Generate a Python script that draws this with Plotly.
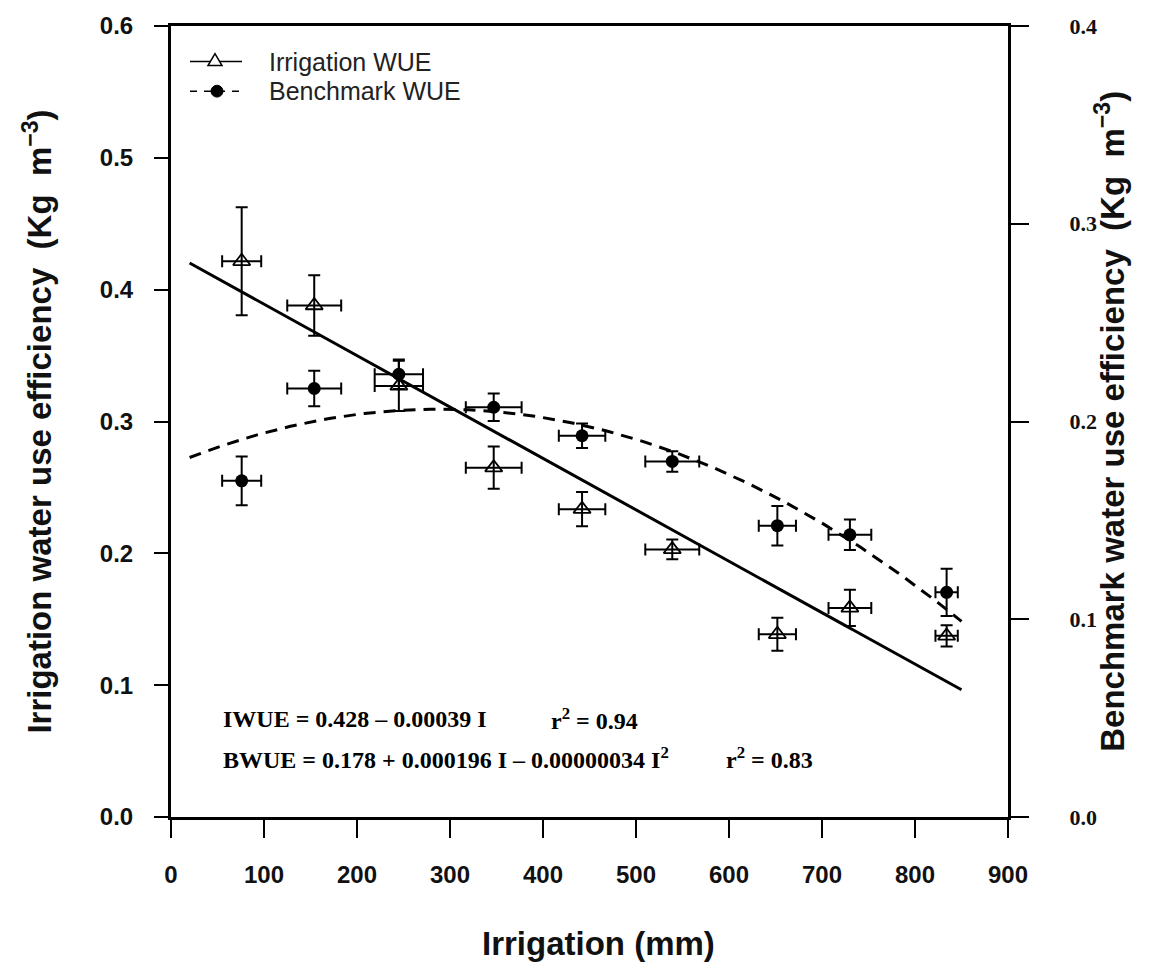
import numpy as np
import plotly.graph_objects as go

# ---- data ----
irrigation_mm = [76, 154, 245, 347, 442, 539, 652, 730, 834]
irrigation_err = [21, 29, 26, 30, 25, 29, 20, 23, 12]
iwue = [0.4215, 0.388, 0.327, 0.265, 0.2335, 0.203, 0.1386, 0.1586, 0.1374]
iwue_err = [0.041, 0.023, 0.019, 0.016, 0.013, 0.0075, 0.0125, 0.0137, 0.008]
bwue = [0.170, 0.2167, 0.2239, 0.2072, 0.1928, 0.1798, 0.1473, 0.1427, 0.1136]
bwue_err = [0.0123, 0.009, 0.0075, 0.007, 0.0062, 0.0052, 0.010, 0.0077, 0.012]

# fitted equations printed on the chart
iwue_coef = [0.428, -0.00039]
bwue_coef = [0.178, 0.000196, -0.00000034]
fit_range = [20, 850]

x_ticks = [0, 100, 200, 300, 400, 500, 600, 700, 800, 900]
y_ticks = [0.0, 0.1, 0.2, 0.3, 0.4, 0.5, 0.6]
y2_ticks = [0.0, 0.1, 0.2, 0.3, 0.4]
legend_names = ["Irrigation WUE", "Benchmark WUE"]

I_fit = np.linspace(fit_range[0], fit_range[1], 200)
iwue_fit = iwue_coef[0] + iwue_coef[1] * I_fit
bwue_fit = bwue_coef[0] + bwue_coef[1] * I_fit + bwue_coef[2] * I_fit ** 2

fig = go.Figure()

fig.add_trace(go.Scatter(x=I_fit, y=iwue_fit, mode="lines",
                         line=dict(color="black", width=3), showlegend=False,
                         hoverinfo="skip"))
fig.add_trace(go.Scatter(x=I_fit, y=bwue_fit, mode="lines", yaxis="y2",
                         line=dict(color="black", width=3, dash="12px,8px"),
                         showlegend=False, hoverinfo="skip"))

err_style = dict(type="data", color="black", thickness=2, width=6)

fig.add_trace(go.Scatter(
    x=irrigation_mm, y=iwue, mode="markers", showlegend=False,
    marker=dict(symbol="triangle-up-open", size=15, color="black",
                line=dict(width=1.8, color="black")),
    error_y=dict(array=iwue_err, **err_style),
    error_x=dict(array=irrigation_err, **err_style)))

fig.add_trace(go.Scatter(
    x=irrigation_mm, y=bwue, mode="markers", yaxis="y2", showlegend=False,
    marker=dict(symbol="circle", size=13, color="black"),
    error_y=dict(array=bwue_err, **err_style),
    error_x=dict(array=irrigation_err, **err_style)))

# ---- manual legend (pixel helpers) ----
L, R, T, B = 171, 1008, 16, 817
def px(xp):
    return (xp - L) / (R - L)
def py(yp):
    return (B - yp) / (B - T)

shapes = []
rows = [52, 82]
# row 1: solid line with open triangle
shapes.append(dict(type="line", xref="paper", yref="paper",
                   x0=px(190), x1=px(242), y0=py(rows[0]), y1=py(rows[0]),
                   line=dict(color="black", width=1.5)))
tri = "M {:.5f} {:.5f} L {:.5f} {:.5f} L {:.5f} {:.5f} Z".format(
    px(215), py(rows[0] - 8), px(208), py(rows[0] + 4), px(222), py(rows[0] + 4))
shapes.append(dict(type="path", xref="paper", yref="paper", path=tri,
                   fillcolor="white", line=dict(color="black", width=1.5)))
# row 2: dashed line with filled circle
shapes.append(dict(type="line", xref="paper", yref="paper",
                   x0=px(190), x1=px(242), y0=py(rows[1]), y1=py(rows[1]),
                   line=dict(color="black", width=1.5, dash="7px,7px")))
shapes.append(dict(type="circle", xref="paper", yref="paper",
                   x0=px(211), x1=px(223), y0=py(rows[1] + 6), y1=py(rows[1] - 6),
                   fillcolor="black", line=dict(color="black", width=1)))

legend_font = dict(family="Liberation Sans, Arial", size=25, color="#222")

tick_font = dict(family="Liberation Sans, Arial", size=24, color="#111")
title_font = dict(family="Liberation Sans, Arial", size=33, color="#111")

fig.update_layout(
    width=1151, height=976,
    margin=dict(l=L, r=1151 - R, t=T, b=976 - B),
    plot_bgcolor="white", paper_bgcolor="white",
    showlegend=False,
    shapes=shapes,
    xaxis=dict(range=[0, 900], tickvals=x_ticks,
               ticktext=["<b>%d</b>" % v for v in x_ticks],
               showgrid=False, zeroline=False, showline=True, mirror=True,
               linecolor="black", linewidth=3, ticks="outside", ticklen=18,
               tickwidth=2, tickcolor="black", tickfont=tick_font,
               ticklabelstandoff=16),
    yaxis=dict(range=[0, 0.6], tickvals=y_ticks,
               ticktext=["<b>%.1f</b>" % v for v in y_ticks],
               showgrid=False, zeroline=False, showline=True,
               linecolor="black", linewidth=3, ticks="outside", ticklen=14,
               tickwidth=2, tickcolor="black", tickfont=tick_font,
               ticklabelstandoff=16),
    yaxis2=dict(range=[0, 0.4], tickvals=y2_ticks,
                ticktext=["<b>%.1f</b>" % v for v in y2_ticks],
                overlaying="y", side="right",
                showgrid=False, zeroline=False, showline=True,
                linecolor="black", linewidth=3, ticks="outside", ticklen=18,
                tickwidth=2, tickcolor="black",
                tickfont=dict(family="Liberation Serif, Times New Roman",
                              size=22, color="#111"),
                ticklabelstandoff=36),
)

eq_font = dict(family="Liberation Serif, Times New Roman", size=24, color="black")
ann = [
    dict(x=px(267), y=py(rows[0]), xref="paper", yref="paper", xanchor="left",
         yanchor="middle", text=legend_names[0], showarrow=False, font=legend_font),
    dict(x=px(267), y=py(rows[1]), xref="paper", yref="paper", xanchor="left",
         yanchor="middle", text=legend_names[1], showarrow=False, font=legend_font),
    dict(x=54, y=0.074, xref="x", yref="y", xanchor="left", yanchor="middle",
         text="<b>IWUE = 0.428 – 0.00039 I</b>", showarrow=False, font=eq_font),
    dict(x=406, y=0.074, xref="x", yref="y", xanchor="left", yanchor="middle",
         text="<b>r<sup>2</sup> = 0.94</b>", showarrow=False, font=eq_font),
    dict(x=54, y=0.045, xref="x", yref="y", xanchor="left", yanchor="middle",
         text="<b>BWUE = 0.178 + 0.000196 I – 0.00000034 I<sup>2</sup></b>",
         showarrow=False, font=eq_font),
    dict(x=595, y=0.045, xref="x", yref="y", xanchor="left", yanchor="middle",
         text="<b>r<sup>2</sup> = 0.83</b>", showarrow=False, font=eq_font),
    dict(x=0.511, y=-0.16, xref="paper", yref="paper", xanchor="center",
         yanchor="middle", text="<b>Irrigation (mm)</b>", showarrow=False,
         font=title_font),
    dict(x=-0.16, y=0.5, xref="paper", yref="paper", xanchor="center",
         yanchor="middle", textangle=-90,
         text="<b>Irrigation water use efficiency  (Kg  m<sup>−3</sup>)</b>",
         showarrow=False, font=title_font),
    dict(x=1.121, y=0.5, xref="paper", yref="paper", xanchor="center",
         yanchor="middle", textangle=-90,
         text="<b>Benchmark water use efficiency  (Kg  m<sup>−3</sup>)</b>",
         showarrow=False, font=title_font),
]
fig.update_layout(annotations=ann)

fig.write_html("out.html")
